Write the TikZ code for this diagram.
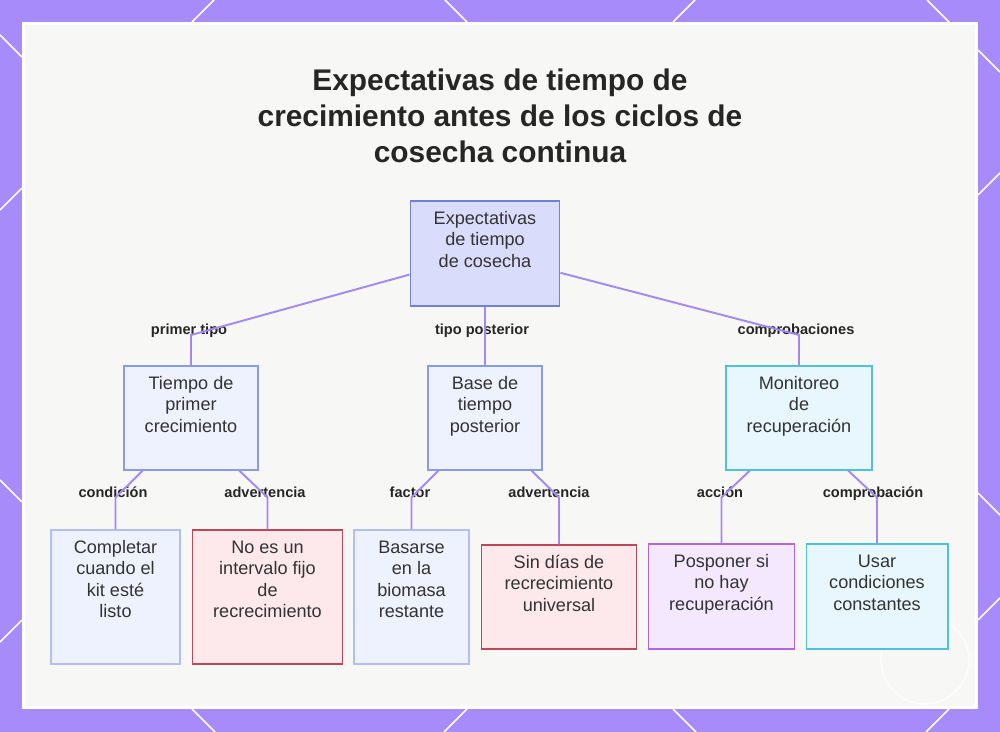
\documentclass[tikz,border=0pt]{standalone}
\usepackage{fontspec}
\setmainfont{Liberation Sans}
\usetikzlibrary{positioning}

\definecolor{framepurple}{HTML}{A78BFA}
\definecolor{panelgray}{HTML}{F7F7F5}
\definecolor{textgray}{HTML}{333333}
\definecolor{linkpurple}{HTML}{A38AF0}
\definecolor{rootfill}{HTML}{D9DDFB}
\definecolor{rootline}{HTML}{6F80D9}
\definecolor{bluefill}{HTML}{EEF2FE}
\definecolor{blueline}{HTML}{8A9BE6}
\definecolor{paleline}{HTML}{B3BEF3}
\definecolor{redfill}{HTML}{FDE8EC}
\definecolor{redline}{HTML}{C0475A}
\definecolor{violetfill}{HTML}{F3E8FE}
\definecolor{violetline}{HTML}{B264E3}
\definecolor{cyanfill}{HTML}{E8F7FD}
\definecolor{cyanline}{HTML}{4DC1DE}

\begin{document}
\begin{tikzpicture}[
        x=0.02cm, y=-0.02cm,
        box/.style={rectangle, draw, line width=0.9pt, inner sep=0pt, text=textgray, font=\fontsize{10.3}{12.1}\selectfont},
        title/.style={align=center, text=black!85, font=\bfseries\fontsize{17}{20.4}\selectfont},
        tag/.style={anchor=base, inner sep=1pt, text=black!85, font=\bfseries\fontsize{8.3}{10}\selectfont},
        conn/.style={draw=linkpurple, line width=1.1pt}
    ]

    % Frame and panel
    \fill[framepurple] (0,0) rectangle (1000,732);
    \useasboundingbox (0,0) rectangle (1000,732);
    \foreach \ax/\ay/\bx/\by in {214/0/192/22, 445/0/467/22, 695/0/673/22, 927/0/949/22,
            192/709/215/732, 467/709/444/732, 673/709/696/732, 949/709/926/732,
            0/35/22/57, 22/188/0/210, 0/480/22/502, 22/620/0/642,
            978/50/1000/72, 978/195/1000/173, 978/493/1000/515, 1000/598/978/620}
        \draw[white, line width=0.9pt] (\ax,\ay) -- (\bx,\by);
    \fill[white] (22,22) rectangle (978,709);
    \fill[panelgray] (25,25) rectangle (975,706);
    \draw[white, line width=0.8pt, opacity=0.8] (925,660) circle (44);

    % Title
    \node[title] (title) at (500,116) {Expectativas de tiempo de\\crecimiento antes de los ciclos de\\cosecha continua};

    % Root
    \node[box, fill=rootfill, draw=rootline] (root) at (485,253.5) {
        \begin{minipage}[c][59.5pt][t]{85pt}
        \centering\vspace*{4.8pt}\strut Expectativas\\de tiempo\\de cosecha
        \end{minipage}
    };

    % First level
    \node[box, fill=bluefill, draw=blueline] (tiempo) at (191,418) {
        \begin{minipage}[c][59pt][t]{76pt}
        \centering\vspace*{4.8pt}\strut Tiempo de\\primer\\crecimiento
        \end{minipage}
    };
    \node[box, fill=bluefill, draw=blueline] (base) at (485,418) {
        \begin{minipage}[c][59pt][t]{64.6pt}
        \centering\vspace*{4.8pt}\strut Base de\\tiempo\\posterior
        \end{minipage}
    };
    \node[box, fill=cyanfill, draw=cyanline] (monitoreo) at (799,418) {
        \begin{minipage}[c][59pt][t]{82.8pt}
        \centering\vspace*{4.8pt}\strut Monitoreo\\de\\recuperación
        \end{minipage}
    };

    % Second level
    \node[box, fill=bluefill, draw=paleline] (completar) at (115.5,597) {
        \begin{minipage}[c][76pt][t]{73.1pt}
        \centering\vspace*{4.8pt}\strut Completar\\cuando el\\kit esté\\listo
        \end{minipage}
    };
    \node[box, fill=redfill, draw=redline] (noes) at (267.5,597) {
        \begin{minipage}[c][76pt][t]{85.6pt}
        \centering\vspace*{4.8pt}\strut No es un\\intervalo fijo\\de\\recrecimiento
        \end{minipage}
    };
    \node[box, fill=bluefill, draw=paleline] (basarse) at (411.5,597) {
        \begin{minipage}[c][76pt][t]{65.2pt}
        \centering\vspace*{4.8pt}\strut Basarse\\en la\\biomasa\\restante
        \end{minipage}
    };
    \node[box, fill=redfill, draw=redline] (sindias) at (559,597) {
        \begin{minipage}[c][59pt][t]{88.4pt}
        \centering\vspace*{4.8pt}\strut Sin días de\\recrecimiento\\universal
        \end{minipage}
    };
    \node[box, fill=violetfill, draw=violetline] (posponer) at (721.5,596.5) {
        \begin{minipage}[c][59.5pt][t]{83.3pt}
        \centering\vspace*{4.8pt}\strut Posponer si\\no hay\\recuperación
        \end{minipage}
    };
    \node[box, fill=cyanfill, draw=cyanline] (usar) at (877,596.5) {
        \begin{minipage}[c][59.5pt][t]{80.5pt}
        \centering\vspace*{4.8pt}\strut Usar\\condiciones\\constantes
        \end{minipage}
    };

    % Edge labels
    \node[tag] (tag-primer) at (189,335) {primer tipo};
    \node[tag] (tag-posterior) at (482,335) {tipo posterior};
    \node[tag] (tag-comprob) at (796,335) {comprobaciones};
    \node[tag] (tag-condicion) at (113,497.5) {condición};
    \node[tag] (tag-advert1) at (265,497.5) {advertencia};
    \node[tag] (tag-factor) at (410,497.5) {factor};
    \node[tag] (tag-advert2) at (549,497.5) {advertencia};
    \node[tag] (tag-accion) at (720,497.5) {acción};
    \node[tag] (tag-comprob2) at (873,497.5) {comprobación};

    % Connectors
    \draw[conn] ([yshift=-12pt]root.west) -- (tiempo.north |- tag-primer.base) -- (tiempo.north);
    \draw[conn] (root.south) -- (base.north);
    \draw[conn] ([yshift=-11pt]root.east) -- (monitoreo.north |- tag-comprob.base) -- (monitoreo.north);

    \draw[conn] ([xshift=-27.5pt]tiempo.south) -- (completar.north |- tag-condicion.base) -- (completar.north);
    \draw[conn] ([xshift=27.5pt]tiempo.south) -- (noes.north |- tag-advert1.base) -- (noes.north);
    \draw[conn] ([xshift=-26.5pt]base.south) -- (basarse.north |- tag-factor.base) -- (basarse.north);
    \draw[conn] ([xshift=26.5pt]base.south) -- (sindias.north |- tag-advert2.base) -- (sindias.north);
    \draw[conn] ([xshift=-28pt]monitoreo.south) -- (posponer.north |- tag-accion.base) -- (posponer.north);
    \draw[conn] ([xshift=28pt]monitoreo.south) -- (usar.north |- tag-comprob2.base) -- (usar.north);

\end{tikzpicture}
\end{document}
